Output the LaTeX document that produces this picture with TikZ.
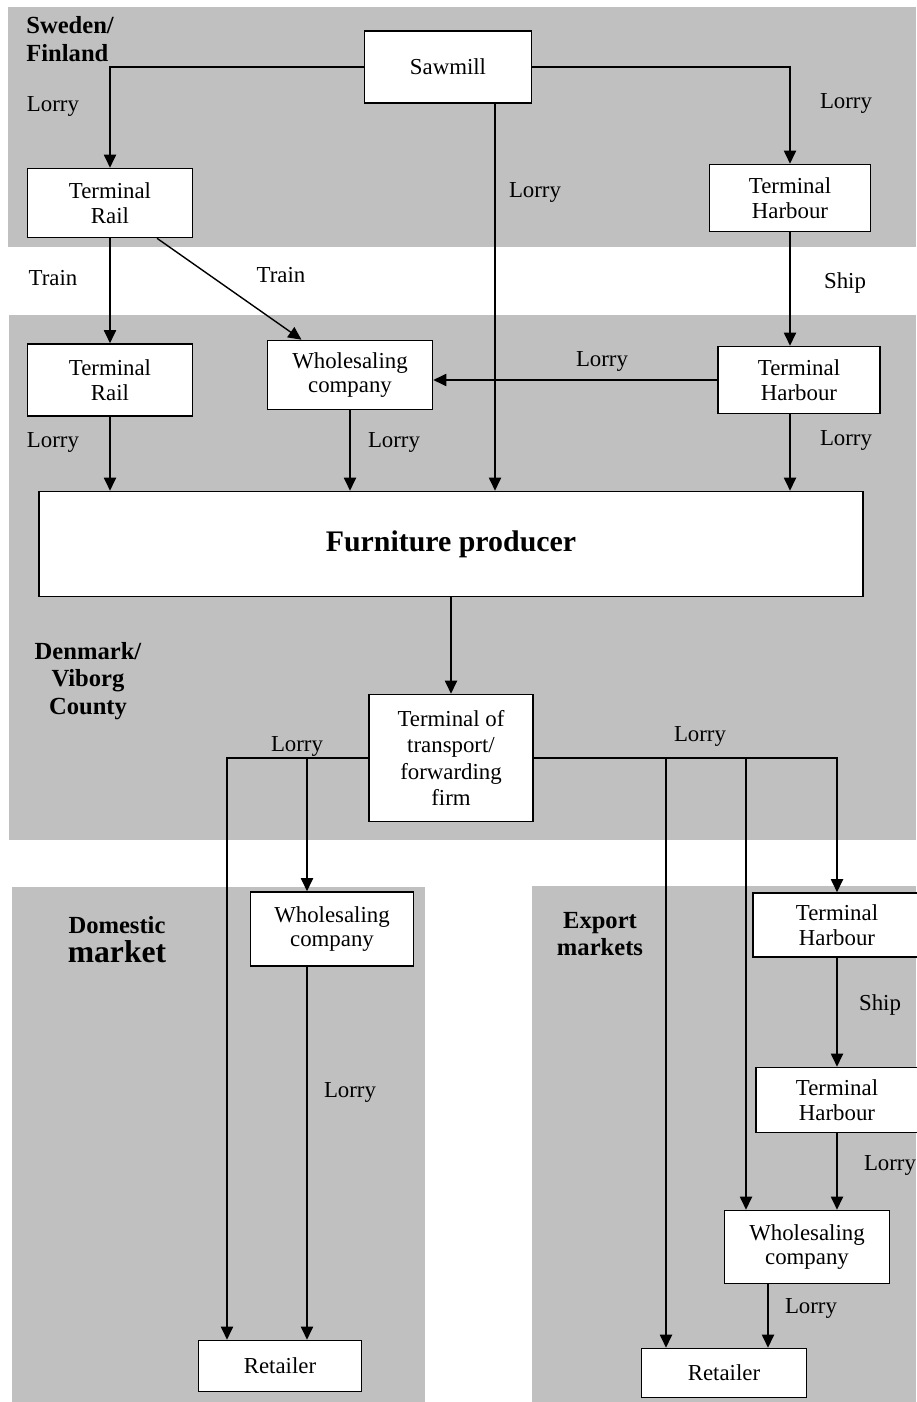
\documentclass[tikz,border=0pt]{standalone}
\usepackage{fontspec}
\setmainfont{Liberation Serif}
\usetikzlibrary{arrows.meta}
\definecolor{bandgray}{RGB}{192,192,192}

\begin{document}
\begin{tikzpicture}[x=0.02cm, y=-0.02cm,
	box/.style={draw, line width=0.9pt, fill=white, align=center, inner sep=2pt, font=\fontsize{13}{14}\selectfont},
	lbl/.style={font=\fontsize{13}{14}\selectfont, inner sep=0pt},
	region/.style={font=\bfseries\fontsize{14}{15.5}\selectfont, inner sep=0pt},
	flow/.style={-{Triangle[length=7.5pt,width=7pt]}, line width=0.8pt}]
	\useasboundingbox (0,0) rectangle (916,1402);
	% grey areas
	\fill[bandgray] (8,7) rectangle (916,247);
	\fill[bandgray] (9,315) rectangle (916,840);
	\fill[bandgray] (12,887) rectangle (425,1402);
	\fill[bandgray] (532,886) rectangle (916,1402);
	% region names
	\node[region, anchor=west, align=left] (sweden) at (26,39) {Sweden/\\Finland};
	\node[region, align=center] (denmark) at (88,681) {Denmark/\\Viborg\\County};
	\node[region, align=center] (domestic) at (117,940) {Domestic\\[1pt]{\fontsize{18}{19}\selectfont market}};
	\node[region, align=center] (export) at (600,934) {Export\\markets};
	% boxes
	\node[box, minimum width=3.34cm, minimum height=1.44cm] (saw) at (448,67) {Sawmill};
	\node[box, minimum width=3.3cm, minimum height=1.38cm] (railA) at (110,203) {Terminal\\Rail};
	\node[box, minimum width=3.22cm, minimum height=1.34cm] (harbA) at (790,198) {Terminal\\Harbour};
	\node[box, minimum width=3.3cm, minimum height=1.44cm] (railB) at (110,380) {Terminal\\Rail};
	\node[box, minimum width=3.3cm, minimum height=1.38cm] (wholeA) at (350,375) {Wholesaling\\company};
	\node[box, minimum width=3.24cm, minimum height=1.34cm] (harbB) at (799,380) {Terminal\\Harbour};
	\node[box, minimum width=16.48cm, minimum height=2.1cm, font=\bfseries\fontsize{17}{19}\selectfont] (prod) at (451,544) {Furniture producer};
	\node[box, minimum width=3.28cm, minimum height=2.54cm, font=\fontsize{13}{15}\selectfont] (fwd) at (451,758) {Terminal of\\transport/\\forwarding\\firm};
	\node[box, minimum width=3.26cm, minimum height=1.48cm] (wholeD) at (332,929) {Wholesaling\\company};
	\node[box, minimum width=3.26cm, minimum height=1.02cm] (retD) at (280,1366) {Retailer};
	\node[box, minimum width=3.36cm, minimum height=1.28cm] (harbX) at (837,925) {Terminal\\Harbour};
	\node[box, minimum width=3.24cm, minimum height=1.3cm] (harbY) at (837,1100) {Terminal\\Harbour};
	\node[box, minimum width=3.3cm, minimum height=1.46cm] (wholeX) at (807,1247) {Wholesaling\\company};
	\node[box, minimum width=3.3cm, minimum height=0.98cm] (retX) at (724,1373) {Retailer};
	% columns of the off-centre lines
	\coordinate (sawdrop) at (495,0);
	\coordinate (domA) at (227,0);
	\coordinate (domB) at (307,0);
	\coordinate (expA) at (666,0);
	\coordinate (expB) at (746,0);
	\coordinate (expC) at (768,0);
	% connectors
	\draw[flow] (saw.west) -| (railA.north);
	\draw[flow] (saw.east) -| (harbA.north);
	\draw[flow] (saw.south -| sawdrop) -- (prod.north -| sawdrop);
	\draw[flow] (railA) -- (railB);
	\draw[flow] ([xshift=0.94cm]railA.south) -- ([xshift=-0.97cm]wholeA.north);
	\draw[flow] (harbA.south) -- (harbA.south |- harbB.north);
	\draw[flow] (harbB.west) -- (harbB.west -| wholeA.east);
	\draw[flow] (railB) -- (railB.south |- prod.north);
	\draw[flow] (wholeA) -- (wholeA.south |- prod.north);
	\draw[flow] (harbB.south -| harbA.south) -- (prod.north -| harbA.south);
	\draw[flow] (prod) -- (fwd);
	\draw[flow] (fwd.west) -| (retD.north -| domA);
	\draw[flow] (fwd.west -| domB) -- (wholeD.north -| domB);
	\draw[flow] (wholeD.south -| domB) -- (retD.north -| domB);
	\draw[flow] (fwd.east) -| (harbX.north);
	\draw[flow] (fwd.east -| expA) -- (retX.north -| expA);
	\draw[flow] (fwd.east -| expB) -- (wholeX.north -| expB);
	\draw[flow] (harbX) -- (harbY);
	\draw[flow] (harbY.south) -- (harbY.south |- wholeX.north);
	\draw[flow] (wholeX.south -| expC) -- (retX.north -| expC);
	% transport modes
	\node[lbl] (lorry1) at (53,106) {Lorry};
	\node[lbl] (lorry2) at (846,103) {Lorry};
	\node[lbl] (lorry3) at (535,192) {Lorry};
	\node[lbl] (train1) at (53,278) {Train};
	\node[lbl] (train2) at (281,275) {Train};
	\node[lbl] (ship1) at (845,283) {Ship};
	\node[lbl] (lorry4) at (602,361) {Lorry};
	\node[lbl] (lorry5) at (53,442) {Lorry};
	\node[lbl] (lorry6) at (394,442) {Lorry};
	\node[lbl] (lorry7) at (846,440) {Lorry};
	\node[lbl] (lorry8) at (297,746) {Lorry};
	\node[lbl] (lorry9) at (700,736) {Lorry};
	\node[lbl] (lorry10) at (350,1092) {Lorry};
	\node[lbl] (ship2) at (880,1005) {Ship};
	\node[lbl] (lorry11) at (890,1165) {Lorry};
	\node[lbl] (lorry12) at (811,1308) {Lorry};
\end{tikzpicture}
\end{document}
